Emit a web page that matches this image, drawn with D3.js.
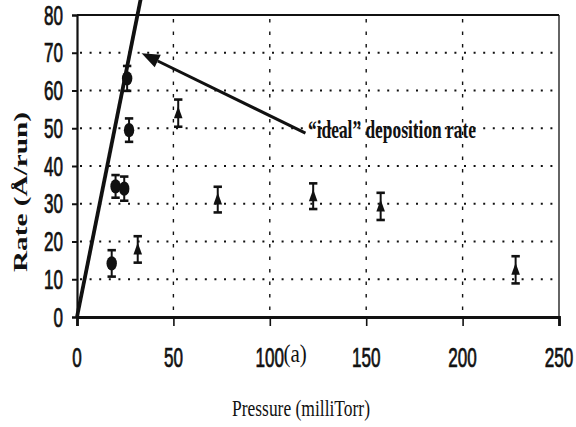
<!DOCTYPE html>
<html>
<head>
<meta charset="utf-8">
<script src="https://cdn.jsdelivr.net/npm/d3@7"></script>
<style>
  html, body { margin: 0; padding: 0; background: #fff; }
  svg { display: block; }
</style>
</head>
<body>
<svg id="chart" width="576" height="427"></svg>
<script>
// Deposition rate versus chamber pressure
const xTicks = [0, 50, 100, 150, 200, 250];
const yTicks = [0, 10, 20, 30, 40, 50, 60, 70, 80];

// Circle series: pressure (milliTorr), rate (Å/run), error
const circlePressure = [18, 20, 24.5, 27, 26];
const circleRate     = [14.2, 34.6, 34.0, 49.5, 63.2];
const circleErr      = [3.5, 3.0, 3.2, 3.1, 3.3];

// Triangle series
const triPressure = [31.5, 52.5, 73, 122.5, 157.5, 227.5];
const triRate     = [17.9, 54, 31.1, 32.0, 29.3, 12.5];
const triErr      = [3.5, 3.6, 3.4, 3.4, 3.6, 3.6];

// "ideal" deposition line: rate = slope * pressure
const idealSlope = 2.55;
const idealPressure = [0, 33];

// annotation arrow (data coordinates): tail -> tip
const arrowTail = [118.5, 48.7];
const arrowTip  = [33.5, 69.9];

const svg = d3.select("#chart");
const x = d3.scaleLinear().domain([0, 250]).range([77, 559]);
const y = d3.scaleLinear().domain([0, 80]).range([317, 15]);

const ink = "#111";
const tickFont = "'Liberation Sans', Arial, sans-serif";
const serif = "'Liberation Serif', 'Times New Roman', serif";

// stretched text helper
function label(txt, px, py, opts) {
  const g = svg.append("g")
    .attr("transform", `translate(${px},${py}) rotate(${opts.rotate || 0}) scale(${opts.sx || 1},${opts.sy || 1})`);
  const t = g.append("text")
    .attr("x", 0).attr("y", 0)
    .attr("text-anchor", opts.anchor || "start")
    .attr("font-family", opts.family)
    .attr("font-size", opts.size)
    .attr("font-weight", opts.weight || "normal")
    .attr("fill", ink)
    .text(txt);
  if (opts.stroke) t.attr("stroke", ink).attr("stroke-width", opts.stroke);
  if (opts.length) t.attr("textLength", opts.length).attr("lengthAdjust", "spacingAndGlyphs");
  return t;
}

// horizontal dotted grid
svg.append("g").selectAll("line")
  .data(yTicks.filter(v => v > 0 && v < 80))
  .join("line")
  .attr("x1", x(0) + 3).attr("x2", x(250))
  .attr("y1", d => y(d)).attr("y2", d => y(d))
  .attr("stroke", ink).attr("stroke-width", 2)
  .attr("stroke-dasharray", "2,7.6");

// vertical dashed grid
svg.append("g").selectAll("line")
  .data(xTicks.filter(v => v > 0 && v < 250))
  .join("line")
  .attr("x1", d => x(d)).attr("x2", d => x(d))
  .attr("y1", y(80) + 4).attr("y2", y(0))
  .attr("stroke", ink).attr("stroke-width", 1.4)
  .attr("stroke-dasharray", "3.5,9");

// frame: top and right borders
svg.append("line").attr("x1", x(0)).attr("x2", x(250)).attr("y1", y(80)).attr("y2", y(80))
  .attr("stroke", ink).attr("stroke-width", 2);
svg.append("line").attr("x1", x(250)).attr("x2", x(250)).attr("y1", y(80)).attr("y2", y(0))
  .attr("stroke", ink).attr("stroke-width", 1.3);

// axes
const yAxis = d3.axisLeft(y).tickValues(yTicks).tickSize(5).tickFormat("");
const xAxis = d3.axisBottom(x).tickValues(xTicks).tickSize(9).tickFormat("");
svg.append("g").attr("transform", `translate(${x(0)},0)`).call(yAxis)
  .call(g => g.select(".domain").attr("stroke", ink).attr("stroke-width", 2.2))
  .call(g => g.selectAll(".tick line").attr("stroke", ink).attr("stroke-width", 2));
svg.append("g").attr("transform", `translate(0,${y(0)})`).call(xAxis)
  .call(g => g.select(".domain").attr("stroke", ink).attr("stroke-width", 2.8))
  .call(g => g.selectAll(".tick line").attr("stroke", ink).attr("stroke-width", 1.6));

// tick labels
yTicks.forEach(v => label(String(v), 63, y(v) + 9.5,
  { family: tickFont, size: 18, sx: 0.95, sy: 1.5, anchor: "end", stroke: 0.5 }));
xTicks.forEach(v => label(String(v), x(v), 366.5,
  { family: tickFont, size: 18, sx: 0.95, sy: 1.5, anchor: "middle", stroke: 0.5 }));
label("(a)", 283.5, 362, { family: serif, size: 21, sy: 1.15 });

// axis titles
label("Pressure (milliTorr)", 232, 416, { family: serif, size: 18, sy: 1.3, length: 138 });
label("Rate (Å/run)", 27, 272, { family: serif, size: 18, weight: "bold", rotate: -90, length: 160 });

// ideal line
svg.append("line")
  .attr("x1", x(idealPressure[0])).attr("y1", y(idealSlope * idealPressure[0]))
  .attr("x2", x(idealPressure[1])).attr("y2", y(idealSlope * idealPressure[1]))
  .attr("stroke", ink).attr("stroke-width", 3.8);

// annotation arrow
const ax1 = x(arrowTail[0]), ay1 = y(arrowTail[1]);
const ax2 = x(arrowTip[0]),  ay2 = y(arrowTip[1]);
const ang = Math.atan2(ay2 - ay1, ax2 - ax1);
const headLen = 18, headHalf = 7;
const bx = ax2 - headLen * Math.cos(ang), by = ay2 - headLen * Math.sin(ang);
svg.append("line").attr("x1", ax1).attr("y1", ay1).attr("x2", bx).attr("y2", by)
  .attr("stroke", ink).attr("stroke-width", 3);
svg.append("path")
  .attr("d", `M${ax2},${ay2}L${bx + headHalf * Math.sin(ang)},${by - headHalf * Math.cos(ang)}L${bx - headHalf * Math.sin(ang)},${by + headHalf * Math.cos(ang)}Z`)
  .attr("fill", ink);
label("\u201Cideal\u201D deposition rate", 308, 137.5,
  { family: serif, size: 18, weight: "bold", sy: 1.35, length: 168 });

// error bars
function errorBars(px, py, pe) {
  const g = svg.append("g");
  px.forEach((p, i) => {
    const cx = x(p), top = y(py[i] + pe[i]), bot = y(py[i] - pe[i]);
    g.append("line").attr("x1", cx).attr("x2", cx).attr("y1", top).attr("y2", bot)
      .attr("stroke", ink).attr("stroke-width", 2);
    [top, bot].forEach(yy => g.append("line")
      .attr("x1", cx - 4.2).attr("x2", cx + 4.2).attr("y1", yy).attr("y2", yy)
      .attr("stroke", ink).attr("stroke-width", 2.6));
  });
}
errorBars(circlePressure, circleRate, circleErr);
errorBars(triPressure, triRate, triErr);

// circle markers
svg.append("g").selectAll("ellipse")
  .data(circlePressure.map((p, i) => [p, circleRate[i]]))
  .join("ellipse")
  .attr("cx", d => x(d[0])).attr("cy", d => y(d[1]))
  .attr("rx", 5.2).attr("ry", 7.2)
  .attr("fill", ink);

// triangle markers
svg.append("g").selectAll("path")
  .data(triPressure.map((p, i) => [p, triRate[i]]))
  .join("path")
  .attr("transform", d => `translate(${x(d[0])},${y(d[1])})`)
  .attr("d", "M0,-7L4.3,5L-4.3,5Z")
  .attr("fill", ink);
</script>
</body>
</html>
